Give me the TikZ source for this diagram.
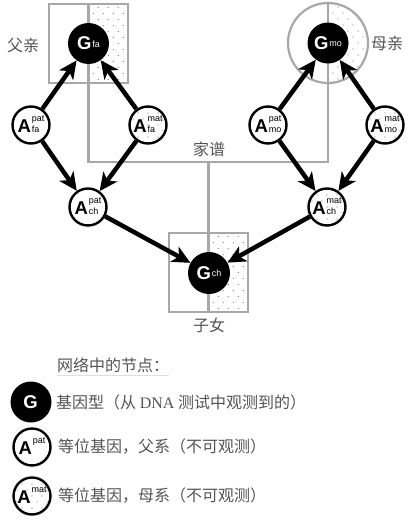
\documentclass[tikz,border=0pt]{standalone}
\usepackage{fontspec}
\usepackage{tikz}
\usetikzlibrary{arrows.meta}
\setmainfont{Liberation Serif}
\newfontfamily\cjk{Noto Sans CJK SC}
\newfontfamily\hv{Liberation Sans}
\newfontfamily\tm{Liberation Serif}
\definecolor{famgray}{gray}{0.66}
\definecolor{dotgray}{gray}{0.5}
\definecolor{textgray}{gray}{0.33}
\newcommand{\gname}[1]{{\bfseries\fontsize{18.5}{18.5}\selectfont G}\kern1pt\raisebox{2.5pt}{\fontsize{9}{9}\selectfont #1}}
\newcommand{\allele}[2]{{\bfseries\fontsize{18.5}{18.5}\selectfont A}\kern1pt\raisebox{0.3pt}{\fontsize{9}{10.5}\selectfont\begin{tabular}[b]{@{}l@{}}#1\\\mbox{}#2\end{tabular}}}

\begin{document}
\begin{tikzpicture}[x=1pt, y=-1pt, node distance=117pt]
\tikzstyle{dotfill} = [fill=white, path picture={
  \foreach \i in {0,...,10}
    \foreach \j in {0,...,16}
      \fill[dotgray] ([shift={({\i*10-50+mod(\j,2)*5},{\j*6-48})}]path picture bounding box.center) circle (0.65);
}]
\tikzstyle{gnode} = [circle, fill=black, minimum size=41pt, inner sep=0pt, text=white, font=\hv]
\tikzstyle{anode} = [circle, draw=black, line width=2.4pt, fill=white, minimum size=37pt, inner sep=0pt, font=\hv]
\tikzstyle{matnode} = [anode, dotfill]
\tikzstyle{famline} = [draw=famgray, line width=2.2pt]
\tikzstyle{frame} = [famline, rectangle, minimum size=79pt, inner sep=0pt]
\tikzstyle{arrow} = [line width=4.5pt, -{Stealth[length=18pt,width=17pt,inset=5pt]}]
\tikzstyle{cjktext} = [font=\cjk\fontsize{16}{16}\selectfont, text=textgray, inner sep=0pt]

\useasboundingbox (0,0) rectangle (416,525);

% Pedigree frames
\path [dotfill] (88.5,4) rectangle (128,83);
\path [dotfill] (208.5,233) rectangle (248,312);
\begin{scope}
\clip (328,0) rectangle (372,90);
\path [dotfill] (328,43) circle (40);
\end{scope}
\node (fabox) [frame] at (88.5,43.5) {};
\draw [famline] (fabox.north) -- (fabox.south);
\node (moring) [famline, circle, minimum size=80pt, inner sep=0pt] at (328,43) {};
\draw [famline] (moring.north) -- (moring.south);
\node (chbox) [frame] at (208.5,272.5) {};
\draw [famline] (chbox.north) -- (chbox.south);
\coordinate (jn) at (208.5,162);
\draw [famline] (fabox.south) |- (jn) -| (moring.south);
\draw [famline] (jn) -- (chbox.north);

% Nodes
\node (fag) [gnode] at (88.5,43.5) {\gname{fa}};
\node (fapat) [anode] at (31,125) {\allele{pat}{fa}};
\node (famat) [matnode, right of=fapat] {\allele{mat}{fa}};
\node (chpat) [anode] at (88,207) {\allele{pat}{ch}};
\node (mog) [gnode] at (328,43) {\gname{mo}};
\node (mopat) [anode] at (268,125) {\allele{pat}{mo}};
\node (momat) [matnode, right of=mopat] {\allele{mat}{mo}};
\node (chmat) [matnode] at (327,207) {\allele{mat}{ch}};
\node (chg) [gnode, minimum size=42pt] at (209,273) {\gname{ch}};

% Arrows
\draw [arrow] (fapat) -- (fag);
\draw [arrow] (famat) -- (fag);
\draw [arrow] (fapat) -- (chpat);
\draw [arrow] (famat) -- (chpat);
\draw [arrow] (mopat) -- (mog);
\draw [arrow] (momat) -- (mog);
\draw [arrow] (mopat) -- (chmat);
\draw [arrow] (momat) -- (chmat);
\draw [arrow] (chpat) -- (chg);
\draw [arrow] (chmat) -- (chg);

% Labels
\node (falabel) [cjktext] at (23,45) {父亲};
\node (molabel) [cjktext] at (387,43) {母亲};
\node (pedlabel) [cjktext] at (209,149) {家谱};
\node (chlabel) [cjktext] at (209,325) {子女};

% Legend
\node (legtitle) [cjktext, anchor=west] at (57,365) {网络中的节点：};
\draw [gray!25, line width=0.6pt] ([yshift=-3pt]legtitle.south west) -- ([yshift=-3pt]legtitle.south east);
\node (legg) [gnode] at (31,402) {\gname{}};
\node (leggtext) [cjktext, anchor=west] at (56,402) {基因型（从 {\tm DNA} 测试中观测到的）};
\node (legpat) [anode] at (32,447) {\allele{pat}{}};
\node (legpattext) [cjktext, anchor=west] at (58,447) {等位基因，父系（不可观测）};
\node (legmat) [matnode] at (32,496) {\allele{mat}{}};
\node (legmattext) [cjktext, anchor=west] at (58,496) {等位基因，母系（不可观测）};

\end{tikzpicture}
\end{document}
